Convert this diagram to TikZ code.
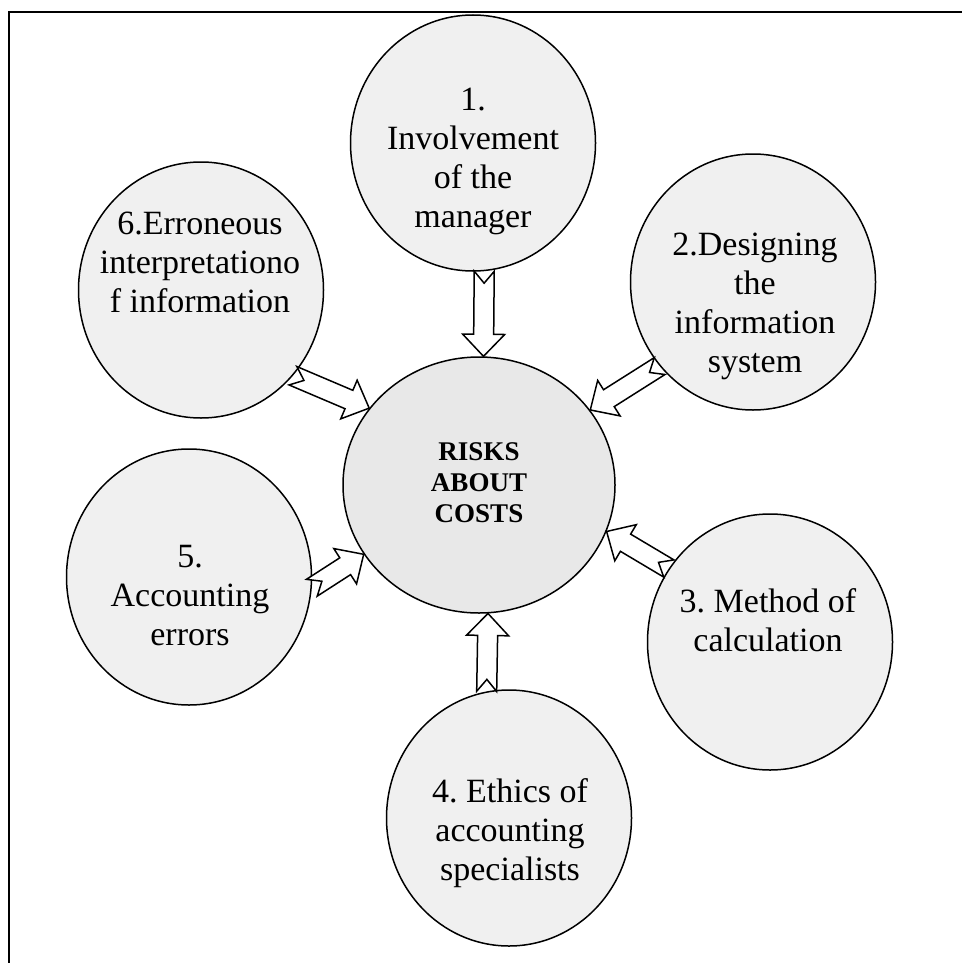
\documentclass[tikz,border=0pt]{standalone}
\usepackage{fontspec}
\setmainfont{Liberation Serif}
\frenchspacing
\usetikzlibrary{shapes.geometric,calc}
\tikzstyle{riskc}=[ellipse, draw=black, line width=1.5pt, fill=black!9, minimum width=272pt, minimum height=256pt, inner sep=0pt]
\tikzstyle{factor}=[ellipse, draw=black, line width=1.5pt, fill=black!6, minimum width=245pt, minimum height=256pt, inner sep=0pt]
\tikzstyle{annot}=[align=center, font=\fontsize{34}{39}\selectfont]
\tikzstyle{annotb}=[align=center, font=\fontsize{27}{31}\selectfont\bfseries]
\tikzstyle{blockarr}=[draw=black, line width=1.5pt, fill=white, line join=miter]
% hollow notched arrow from #1 (tail) to #2 (tip)
\newcommand{\blockarrow}[2]
{
  \draw[blockarr] let \p1=(#1), \p2=(#2), \n1={atan2(\y2-\y1,\x2-\x1)}, \n2={veclen(\x2-\x1,\y2-\y1)} in
    [shift={(\p1)}, rotate=\n1] (0pt,10pt) -- ({\n2*1pt-22pt},10pt) -- ({\n2*1pt-22pt},21pt) -- ({\n2*1pt},0pt)
    -- ({\n2*1pt-22pt},-21pt) -- ({\n2*1pt-22pt},-10pt) -- (0pt,-10pt) -- (12pt,0pt) -- cycle;
}
\begin{document}
\begin{tikzpicture}[x=1pt, y=-1pt]
	\useasboundingbox (0,0) rectangle (962,963);

	% frame
	\coordinate (fl) at (9,963);
	\coordinate (fc) at (9,12);
	\coordinate (fr) at (962,12);
	\draw[line width=2pt] (fl) -- (fc) -- (fr);

	\node[riskc](risk) at (479,485){};
	\node[factor](c1) at (473,143){};
	\node[factor](c2) at (753,282){};
	\node[factor](c3) at (770,642){};
	\node[factor](c4) at (509,818){};
	\node[factor](c5) at (189,577){};
	\node[factor](c6) at (201,290){};

	\node[annotb](trisk) at (479,483){RISKS\\ABOUT\\COSTS};
	\node[annot](t1) at (473,161){1.\\Involvement\\of the\\manager};
	\node[annot](t2) at (755,306){2.Designing\\the\\information\\system};
	\node[annot](t3) at (768,620){3. Method of\\calculation};
	\node[annot](t4) at (510,833){4. Ethics of\\accounting\\specialists};
	\node[annot](t5) at (190,596){5.\\Accounting\\errors};
	\node[annot](t6) at (200,262){6.Erroneous\\interpretationo\\f information};

	\blockarrow{c1.-85}{risk.88}
	\blockarrow{c2.222}{risk.34}
	\blockarrow{c3.144}{risk.-20}
	\blockarrow{c4.100}{risk.-86}
	\blockarrow{c5.-5}{risk.211}
	\blockarrow{c6.-43}{risk.145}

\end{tikzpicture}
\end{document}
